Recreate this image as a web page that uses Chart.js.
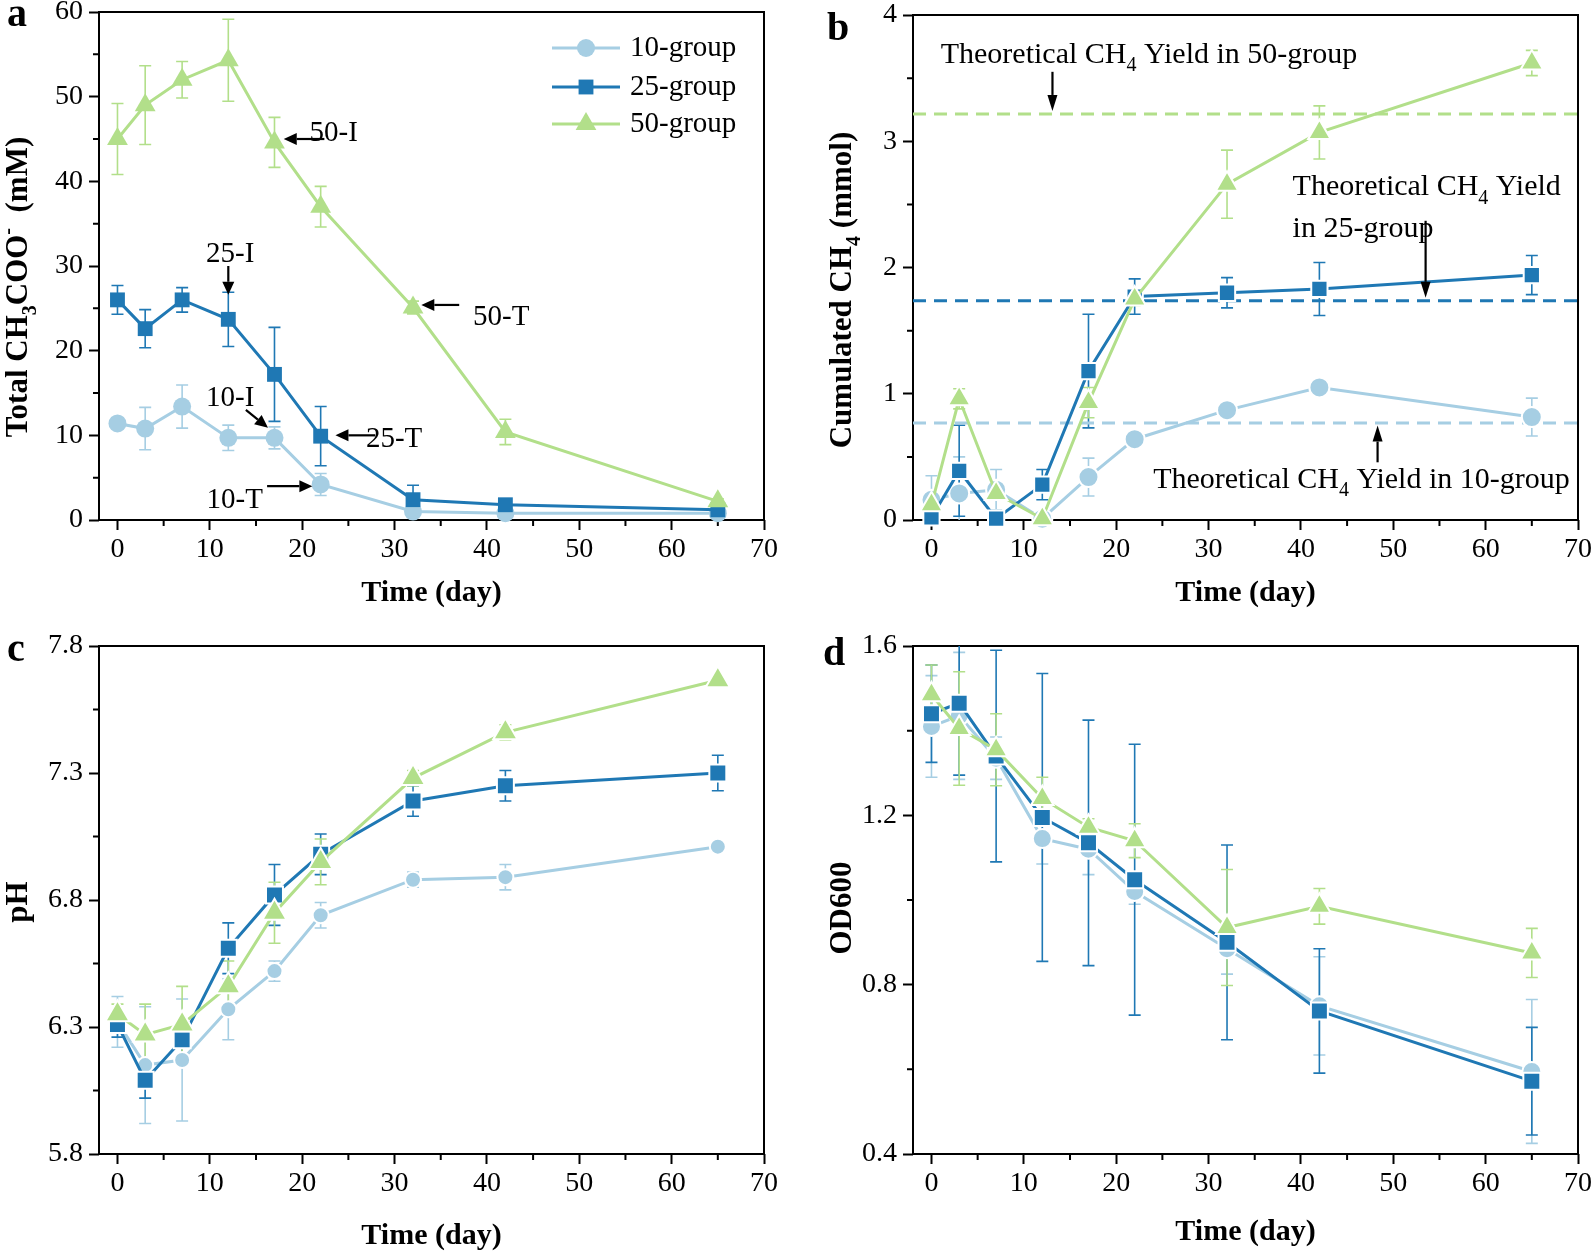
<!DOCTYPE html>
<html>
<head>
<meta charset="utf-8">
<title>Acetate, CH4, pH and OD600 over time</title>
<script src="https://cdn.jsdelivr.net/npm/chart.js@4.4.1/dist/chart.umd.min.js"></script>
<style>
  html, body { margin: 0; padding: 0; background: #fff; }
  body { width: 1593px; height: 1254px; position: relative; overflow: hidden; }
  .panel { position: absolute; }
</style>
</head>
<body>
<div class="panel" style="left:0;top:0;width:790px;height:625px"><canvas id="chartA"></canvas></div>
<div class="panel" style="left:790px;top:0;width:803px;height:625px"><canvas id="chartB"></canvas></div>
<div class="panel" style="left:0;top:625px;width:790px;height:629px"><canvas id="chartC"></canvas></div>
<div class="panel" style="left:790px;top:625px;width:803px;height:629px"><canvas id="chartD"></canvas></div>
<script>
const SERIF = '"Liberation Serif", "Times New Roman", serif';

// sampling days, shared by all four panels
const days = [0, 3, 7, 12, 17, 22, 32, 42, 65];

// a - total acetate (mM), mean and error
const acet10 = [11.4, 10.8, 13.4, 9.7, 9.7, 4.2, 1.0, 0.8, 0.8];
const acet10Err = [0.5, 2.5, 2.55, 1.5, 1.3, 1.3, 0.3, 0.3, 0.3];
const acet25 = [26.0, 22.6, 26.0, 23.7, 17.2, 9.9, 2.4, 1.8, 1.2];
const acet25Err = [1.7, 2.25, 1.45, 3.2, 5.55, 3.5, 1.7, 0.5, 0.3];
const acet50 = [45.0, 49.0, 52.0, 54.3, 44.6, 37.0, 25.1, 10.4, 2.2];
const acet50Err = [4.2, 4.65, 2.15, 4.85, 2.95, 2.4, 0.75, 1.5, 0.3];

// b - cumulated CH4 (mmol)
const ch4_10 = [0.16, 0.21, 0.24, 0.01, 0.34, 0.64, 0.87, 1.05, 0.815];
const ch4_10Err = [0.19, 0.29, 0.16, 0.02, 0.15, 0.02, 0.03, 0.02, 0.15];
const ch4_25 = [0.02, 0.39, 0.01, 0.28, 1.18, 1.77, 1.80, 1.83, 1.94];
const ch4_25Err = [0.02, 0.36, 0.01, 0.12, 0.45, 0.14, 0.12, 0.21, 0.155];
const ch4_50 = [0.12, 0.96, 0.21, 0.01, 0.93, 1.75, 2.66, 3.07, 3.62];
const ch4_50Err = [0.1, 0.08, 0.05, 0.01, 0.12, 0.05, 0.27, 0.21, 0.1];
// theoretical CH4 yield for 10, 25, 50 groups
const theoYield = [0.769, 1.737, 3.215];

// c - pH
const ph10 = [6.32, 6.15, 6.17, 6.37, 6.52, 6.74, 6.88, 6.89, 7.01];
const ph10Err = [0.1, 0.23, 0.24, 0.12, 0.04, 0.05, 0.03, 0.05, 0.02];
const ph25 = [6.31, 6.09, 6.25, 6.61, 6.82, 6.98, 7.19, 7.25, 7.30];
const ph25Err = [0.05, 0.07, 0.06, 0.1, 0.12, 0.08, 0.06, 0.06, 0.07];
const ph50 = [6.35, 6.27, 6.31, 6.46, 6.75, 6.95, 7.28, 7.46, 7.665];
const ph50Err = [0.04, 0.12, 0.15, 0.1, 0.12, 0.09, 0.03, 0.03, 0.01];

// d - OD600
const od10 = [1.41, 1.435, 1.335, 1.145, 1.12, 1.02, 0.885, 0.75, 0.595];
const od10Err = [0.12, 0.15, 0.05, 0.06, 0.06, 0.03, 0.06, 0.116, 0.17];
const od25 = [1.44, 1.465, 1.34, 1.195, 1.135, 1.048, 0.9, 0.738, 0.572];
const od25Err = [0.115, 0.17, 0.25, 0.34, 0.29, 0.32, 0.23, 0.147, 0.127];
const od50 = [1.485, 1.405, 1.355, 1.24, 1.172, 1.14, 0.935, 0.985, 0.875];
const od50Err = [0.07, 0.134, 0.085, 0.05, 0.02, 0.04, 0.137, 0.042, 0.058];

// axis ticks
const xTicks = [0, 10, 20, 30, 40, 50, 60, 70];
const xMinor = [5, 15, 25, 35, 45, 55, 65];
const aYTicks = [0, 10, 20, 30, 40, 50, 60];
const aYMinor = [5, 15, 25, 35, 45, 55];
const bYTicks = [0, 1, 2, 3, 4];
const bYMinor = [0.5, 1.5, 2.5, 3.5];
const cYTicks = [5.8, 6.3, 6.8, 7.3, 7.8];
const cYMinor = [6.05, 6.55, 7.05, 7.55];
const dYTicks = [0.4, 0.8, 1.2, 1.6];
const dYMinor = [0.6, 1.0, 1.4];

const groupNames = ['10-group', '25-group', '50-group'];
const colors = ['#a6cee3', '#1f78b4', '#b2df8a'];
const shapes = ['circle', 'rect', 'triangle'];

// annotations (data coordinates)
const notesA = [
    { parts: [['50-I']], x: 20.8, y: 45.9 },
    { parts: [['50-T']], x: 38.5, y: 24.2 },
    { parts: [['25-I']], x: 12.2, y: 31.7, align: 'center' },
    { parts: [['10-I']], x: 12.2, y: 14.6, align: 'center' },
    { parts: [['25-T']], x: 26.9, y: 9.8 },
    { parts: [['10-T']], x: 12.7, y: 2.6, align: 'center' }
];
const arrowsA = [
    [22.4, 45.0, 18.0, 45.0],
    [37.0, 25.4, 32.9, 25.4],
    [12.0, 30.0, 12.0, 26.6],
    [13.9, 13.0, 16.3, 10.9],
    [27.9, 10.0, 23.6, 10.0],
    [16.2, 4.0, 21.1, 4.0]
];
const notesB = [
    { parts: [['Theoretical CH'], ['4', 'sub'], [' Yield in 50-group']], x: 1.0, y: 3.70 },
    { parts: [['Theoretical CH'], ['4', 'sub'], [' Yield']], x: 39.1, y: 2.65 },
    { parts: [['in 25-group']], x: 39.1, y: 2.32 },
    { parts: [['Theoretical CH'], ['4', 'sub'], [' Yield in 10-group']], x: 24.0, y: 0.335 }
];
const arrowsB = [
    [13.1, 3.55, 13.1, 3.24],
    [53.5, 2.37, 53.5, 1.76],
    [48.3, 0.457, 48.3, 0.748]
];

function pts(vals) {
    return days.map((d, i) => ({ x: d, y: vals[i] }));
}

// draw text with sub/superscript parts
function richText(ctx, parts, x, y, opt) {
    const size = opt.size;
    const weight = opt.weight || 'normal';
    const fontFor = k => weight + ' ' + (k ? Math.round(size * 0.65) : size) + 'px ' + SERIF;
    let w = 0;
    parts.forEach(p => { ctx.font = fontFor(p[1]); w += ctx.measureText(p[0]).width; });
    ctx.save();
    ctx.translate(x, y);
    if (opt.rotate) ctx.rotate(-Math.PI / 2);
    let cx = opt.align === 'center' ? -w / 2 : 0;
    ctx.textAlign = 'left';
    ctx.textBaseline = 'alphabetic';
    ctx.fillStyle = '#000';
    parts.forEach(p => {
        ctx.font = fontFor(p[1]);
        const dy = p[1] === 'sub' ? size * 0.28 : (p[1] === 'sup' ? -size * 0.42 : 0);
        ctx.fillText(p[0], cx, dy);
        cx += ctx.measureText(p[0]).width;
    });
    ctx.restore();
}

function arrow(ctx, x1, y1, x2, y2, len, half) {
    const ang = Math.atan2(y2 - y1, x2 - x1);
    const bx = x2 - Math.cos(ang) * len;
    const by = y2 - Math.sin(ang) * len;
    ctx.beginPath();
    ctx.moveTo(x1, y1);
    ctx.lineTo(bx, by);
    ctx.stroke();
    ctx.beginPath();
    ctx.moveTo(x2, y2);
    ctx.lineTo(bx + Math.sin(ang) * half, by - Math.cos(ang) * half);
    ctx.lineTo(bx - Math.sin(ang) * half, by + Math.cos(ang) * half);
    ctx.closePath();
    ctx.fill();
}

// frame, minor ticks, error bars, titles, notes
function makeDecor(p) {
    return {
        id: 'decor' + p.letter,
        beforeDatasetsDraw(chart) {
            const ctx = chart.ctx;
            const area = chart.chartArea;
            const xs = chart.scales.x, ys = chart.scales.y;
            ctx.save();
            ctx.strokeStyle = '#000';
            ctx.lineWidth = 2;
            ctx.strokeRect(area.left, area.top, area.right - area.left, area.bottom - area.top);
            ctx.beginPath();
            xMinor.forEach(v => {
                const px = xs.getPixelForValue(v);
                ctx.moveTo(px, area.bottom);
                ctx.lineTo(px, area.bottom + 6);
            });
            p.yMinor.forEach(v => {
                const py = ys.getPixelForValue(v);
                ctx.moveTo(area.left, py);
                ctx.lineTo(area.left - 6, py);
            });
            ctx.stroke();

            // error bars, clipped to the plot area
            ctx.beginPath();
            ctx.rect(area.left, area.top, area.right - area.left, area.bottom - area.top);
            ctx.clip();
            chart.data.datasets.forEach(ds => {
                if (!ds.errorBars) return;
                ctx.strokeStyle = ds.borderColor;
                ctx.lineWidth = 1.6;
                ds.data.forEach((pt, j) => {
                    const e = ds.errorBars[j];
                    const px = xs.getPixelForValue(pt.x);
                    const top = ys.getPixelForValue(pt.y + e);
                    const bot = ys.getPixelForValue(pt.y - e);
                    ctx.beginPath();
                    ctx.moveTo(px, top); ctx.lineTo(px, bot);
                    ctx.moveTo(px - 6, top); ctx.lineTo(px + 6, top);
                    ctx.moveTo(px - 6, bot); ctx.lineTo(px + 6, bot);
                    ctx.stroke();
                });
            });
            ctx.restore();
        },
        afterDraw(chart) {
            const ctx = chart.ctx;
            const xs = chart.scales.x, ys = chart.scales.y;
            ctx.save();
            // panel letter
            ctx.fillStyle = '#000';
            ctx.font = 'bold 40px ' + SERIF;
            ctx.textAlign = 'left';
            ctx.textBaseline = 'alphabetic';
            ctx.fillText(p.letter, p.letterPos[0], p.letterPos[1]);
            // y title
            richText(ctx, p.yTitle, p.yTitlePos[0], p.yTitlePos[1], { size: 31, weight: 'bold', rotate: true, align: 'center' });
            // notes and arrows
            (p.notes || []).forEach(n => {
                richText(ctx, n.parts, xs.getPixelForValue(n.x), ys.getPixelForValue(n.y) + 10,
                    { size: p.noteSize, align: n.align || 'left' });
            });
            ctx.strokeStyle = '#000';
            ctx.fillStyle = '#000';
            ctx.lineWidth = 2.2;
            (p.arrows || []).forEach(a => {
                arrow(ctx, xs.getPixelForValue(a[0]), ys.getPixelForValue(a[1]),
                    xs.getPixelForValue(a[2]), ys.getPixelForValue(a[3]), p.headLen, p.headHalf);
            });
            // legend
            if (p.legend) {
                const rows = [48, 87, 124];
                chart.data.datasets.slice(0, 3).forEach((ds, i) => {
                    const y = rows[i];
                    ctx.strokeStyle = ds.borderColor;
                    ctx.lineWidth = 3;
                    ctx.beginPath();
                    ctx.moveTo(552, y); ctx.lineTo(620, y);
                    ctx.stroke();
                    ctx.fillStyle = ds.borderColor;
                    Chart.helpers.drawPoint(ctx, {
                        pointStyle: ds.pointStyle, radius: ds.pointRadius, rotation: 0, borderWidth: 0
                    }, 586, y);
                    ctx.fillStyle = '#000';
                    ctx.font = '29px ' + SERIF;
                    ctx.textBaseline = 'middle';
                    ctx.fillText(groupNames[i], 630, y);
                });
            }
            ctx.restore();
        }
    };
}

function groupSets(series, errs, radii, ring) {
    return series.map((vals, i) => ({
        label: groupNames[i],
        data: pts(vals),
        errorBars: errs[i],
        borderColor: colors[i],
        backgroundColor: colors[i],
        borderWidth: 3,
        pointStyle: shapes[i],
        pointRadius: radii[i],
        pointBackgroundColor: colors[i],
        pointBorderColor: ring ? '#fff' : colors[i],
        pointBorderWidth: ring ? 2 : 0,
        tension: 0,
        clip: false,
        order: 3 - i
    }));
}

function makeChart(id, p) {
    const datasets = groupSets(p.series, p.errs, p.radii, p.ring).concat(p.extra || []);
    const tickFont = { family: SERIF, size: 28 };
    const grid = { display: true, drawOnChartArea: false, drawTicks: true, tickLength: 10, tickWidth: 2, tickColor: '#000' };
    return new Chart(document.getElementById(id), {
        type: 'line',
        data: { datasets: datasets },
        options: {
            responsive: true,
            maintainAspectRatio: false,
            animation: false,
            layout: { padding: p.padding },
            plugins: { legend: { display: false }, tooltip: { enabled: false } },
            scales: {
                x: {
                    type: 'linear', min: -2, max: 70,
                    afterBuildTicks: s => { s.ticks = xTicks.map(v => ({ value: v })); },
                    afterFit: s => { s.height = p.xHeight; s.paddingLeft = 0; s.paddingRight = 0; },
                    grid: grid,
                    border: { display: false },
                    ticks: { color: '#000', font: tickFont, padding: 3, maxRotation: 0, autoSkip: false },
                    title: {
                        display: true, text: 'Time (day)', color: '#000',
                        font: { family: SERIF, size: 30, weight: 'bold' },
                        padding: { top: 0, bottom: p.xTitlePad }
                    }
                },
                y: {
                    type: 'linear', min: p.yTicks[0], max: p.yTicks[p.yTicks.length - 1],
                    afterBuildTicks: s => { s.ticks = p.yTicks.map(v => ({ value: v })); },
                    afterFit: s => { s.width = p.yWidth; s.paddingTop = 0; s.paddingBottom = 0; },
                    grid: grid,
                    border: { display: false },
                    ticks: { color: '#000', font: tickFont, padding: 6, autoSkip: false, callback: v => v.toFixed(p.decimals) }
                }
            }
        },
        plugins: [makeDecor(p)]
    });
}

// a
makeChart('chartA', {
    letter: 'a', letterPos: [7, 26],
    series: [acet10, acet25, acet50], errs: [acet10Err, acet25Err, acet50Err],
    radii: [9, 10.5, 12], ring: false,
    padding: { left: 0, right: 26, top: 12, bottom: 0 },
    xHeight: 105, yWidth: 99, xTitlePad: 14,
    yTicks: aYTicks, yMinor: aYMinor, decimals: 0,
    yTitle: [['Total CH'], ['3', 'sub'], ['COO'], ['-', 'sup'], ['  (mM)']], yTitlePos: [27, 287],
    notes: notesA, noteSize: 29, arrows: arrowsA, headLen: 13, headHalf: 6,
    legend: true
});

// b
const theoSets = theoYield.map((v, i) => ({
    label: 'Theoretical ' + groupNames[i],
    data: [{ x: -2, y: v }, { x: 70, y: v }],
    borderColor: colors[i],
    borderWidth: 3,
    borderDash: [13, 8],
    pointRadius: 0,
    clip: false,
    order: 5
}));
makeChart('chartB', {
    letter: 'b', letterPos: [37, 40],
    series: [ch4_10, ch4_25, ch4_50], errs: [ch4_10Err, ch4_25Err, ch4_50Err],
    radii: [10, 11.5, 13], ring: true,
    padding: { left: 0, right: 15, top: 12, bottom: 0 },
    xHeight: 105, yWidth: 123, xTitlePad: 14,
    yTicks: bYTicks, yMinor: bYMinor, decimals: 0,
    yTitle: [['Cumulated CH'], ['4', 'sub'], [' (mmol)']], yTitlePos: [61, 290],
    notes: notesB, noteSize: 30, arrows: arrowsB, headLen: 16, headHalf: 5,
    extra: theoSets
});

// c
makeChart('chartC', {
    letter: 'c', letterPos: [7, 36],
    series: [ph10, ph25, ph50], errs: [ph10Err, ph25Err, ph50Err],
    radii: [8, 12, 14], ring: true,
    padding: { left: 0, right: 26, top: 21, bottom: 0 },
    xHeight: 100, yWidth: 99, xTitlePad: 0,
    yTicks: cYTicks, yMinor: cYMinor, decimals: 1,
    yTitle: [['pH']], yTitlePos: [27, 277]
});

// d
makeChart('chartD', {
    letter: 'd', letterPos: [33, 40],
    series: [od10, od25, od50], errs: [od10Err, od25Err, od50Err],
    radii: [9.5, 12, 13], ring: true,
    padding: { left: 0, right: 15, top: 21, bottom: 0 },
    xHeight: 100, yWidth: 123, xTitlePad: 4,
    yTicks: dYTicks, yMinor: dYMinor, decimals: 1,
    yTitle: [['OD600']], yTitlePos: [61, 283]
});
</script>
</body>
</html>
